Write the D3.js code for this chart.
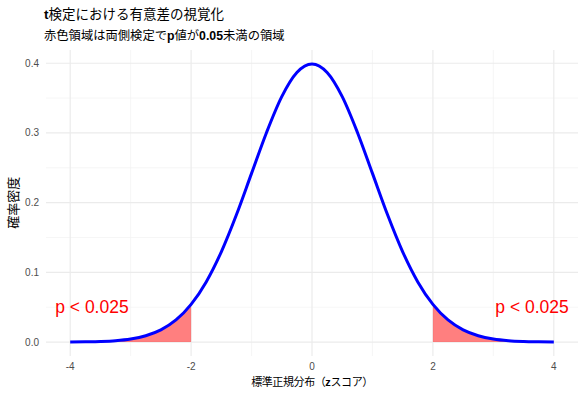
<!DOCTYPE html>
<html>
<head>
<meta charset="utf-8">
<script src="https://cdn.jsdelivr.net/npm/d3@7"></script>
<style>
  body { margin: 0; background: #fff; }
  text { font-family: "Noto Sans CJK JP", "Liberation Sans", sans-serif; }
  .tick-label { font-family: "Liberation Sans", Arial, sans-serif; font-size: 10px; fill: #4d4d4d; }
  .latin { font-family: "Liberation Sans", Arial, sans-serif; font-weight: bold; }
</style>
</head>
<body>
<div class="chart"></div>
<script>
const svgWidth = 586;
const svgHeight = 396;

// density curve, values
const zValues = [-4, -3.75, -3.5, -3.25, -3, -2.75, -2.5, -2.25, -2, -1.75, -1.5, -1.25, -1, -0.75, -0.5, -0.25,
  0, 0.25, 0.5, 0.75, 1, 1.25, 1.5, 1.75, 2, 2.25, 2.5, 2.75, 3, 3.25, 3.5, 3.75, 4];
const densityValues = [0.0001, 0.0004, 0.0009, 0.0020, 0.0044, 0.0091, 0.0175, 0.0317, 0.0540, 0.0863, 0.1295, 0.1826,
  0.2420, 0.3011, 0.3521, 0.3867, 0.3989, 0.3867, 0.3521, 0.3011, 0.2420, 0.1826, 0.1295, 0.0863,
  0.0540, 0.0317, 0.0175, 0.0091, 0.0044, 0.0020, 0.0009, 0.0004, 0.0001];

const xTicks = [-4, -2, 0, 2, 4];
const xMinor = [-3, -1, 1, 3];
const yTicks = [0, 0.1, 0.2, 0.3, 0.4];
const yMinor = [0.05, 0.15, 0.25, 0.35];

const critical = 2;
const annotations = [
  { x: -3.64, y: 0.05, label: 'p < 0.025' },
  { x: 3.64, y: 0.05, label: 'p < 0.025' }
];

const margin = { top: 50, right: 8, bottom: 40, left: 46 };
const width = svgWidth - margin.left - margin.right;
const height = svgHeight - margin.top - margin.bottom;

const data = zValues.map((z, i) => ({ z: z, d: densityValues[i] }));

const svg = d3.select('.chart')
  .append('svg')
  .attr('width', svgWidth)
  .attr('height', svgHeight);

const chartGroup = svg.append('g')
  .attr('transform', `translate(${margin.left}, ${margin.top})`);

const xScale = d3.scaleLinear().domain([-4.4, 4.4]).range([0, width]);
const yScale = d3.scaleLinear().domain([-0.02, 0.419]).range([height, 0]);

// grid
chartGroup.selectAll('.minor-x').data(xMinor).enter().append('line')
  .attr('x1', d => xScale(d)).attr('x2', d => xScale(d))
  .attr('y1', 0).attr('y2', height)
  .attr('stroke', '#f2f2f2').attr('stroke-width', 0.7);
chartGroup.selectAll('.minor-y').data(yMinor).enter().append('line')
  .attr('y1', d => yScale(d)).attr('y2', d => yScale(d))
  .attr('x1', 0).attr('x2', width)
  .attr('stroke', '#f2f2f2').attr('stroke-width', 0.7);
chartGroup.selectAll('.major-x').data(xTicks).enter().append('line')
  .attr('x1', d => xScale(d)).attr('x2', d => xScale(d))
  .attr('y1', 0).attr('y2', height)
  .attr('stroke', '#ebebeb').attr('stroke-width', 1.2);
chartGroup.selectAll('.major-y').data(yTicks).enter().append('line')
  .attr('y1', d => yScale(d)).attr('y2', d => yScale(d))
  .attr('x1', 0).attr('x2', width)
  .attr('stroke', '#ebebeb').attr('stroke-width', 1.2);

// tick labels
chartGroup.selectAll('.xlab').data(xTicks).enter().append('text')
  .attr('class', 'tick-label')
  .attr('x', d => xScale(d))
  .attr('y', height + 14)
  .attr('text-anchor', 'middle')
  .text(d => String(d));
chartGroup.selectAll('.ylab').data(yTicks).enter().append('text')
  .attr('class', 'tick-label')
  .attr('x', -7)
  .attr('y', d => yScale(d) + 3.5)
  .attr('text-anchor', 'end')
  .text(d => d3.format('.1f')(d));

// shaded tails
const area = d3.area()
  .x(d => xScale(d.z))
  .y0(yScale(0))
  .y1(d => yScale(d.d))
  .curve(d3.curveMonotoneX);
chartGroup.append('path')
  .datum(data.filter(d => d.z <= -critical))
  .attr('d', area)
  .attr('fill', 'red').attr('fill-opacity', 0.5);
chartGroup.append('path')
  .datum(data.filter(d => d.z >= critical))
  .attr('d', area)
  .attr('fill', 'red').attr('fill-opacity', 0.5);

// curve
const line = d3.line()
  .x(d => xScale(d.z))
  .y(d => yScale(d.d))
  .curve(d3.curveMonotoneX);
chartGroup.append('path')
  .datum(data)
  .attr('d', line)
  .attr('fill', 'none')
  .attr('stroke', 'blue')
  .attr('stroke-width', 3);

// annotations
chartGroup.selectAll('.note').data(annotations).enter().append('text')
  .attr('x', d => xScale(d.x))
  .attr('y', d => yScale(d.y))
  .attr('dy', '0.35em')
  .attr('text-anchor', 'middle')
  .attr('fill', 'red')
  .style('font-family', '"Liberation Sans", Arial, sans-serif')
  .style('font-size', '17.5px')
  .text(d => d.label);

// titles
const title = svg.append('text')
  .attr('x', 44).attr('y', 19)
  .style('font-size', '13.5px')
  .attr('fill', '#000');
title.append('tspan').attr('class', 'latin').text('t');
title.append('tspan').text('検定における有意差の視覚化');

const subtitle = svg.append('text')
  .attr('x', 44).attr('y', 40)
  .style('font-size', '12.3px')
  .attr('fill', '#000');
subtitle.append('tspan').text('赤色領域は両側検定で');
subtitle.append('tspan').attr('class', 'latin').text('p');
subtitle.append('tspan').text('値が');
subtitle.append('tspan').attr('class', 'latin').text('0.05');
subtitle.append('tspan').text('未満の領域');

const xTitle = svg.append('text')
  .attr('x', margin.left + xScale(0))
  .attr('y', 386)
  .attr('text-anchor', 'middle')
  .style('font-size', '11px')
  .style('letter-spacing', '-0.4px');
xTitle.append('tspan').text('標準正規分布（');
xTitle.append('tspan').attr('class', 'latin').text('z');
xTitle.append('tspan').text('スコア）');

svg.append('text')
  .attr('transform', `translate(18, ${margin.top + yScale(0.2)}) rotate(-90)`)
  .attr('text-anchor', 'middle')
  .style('font-size', '13px')
  .text('確率密度');
</script>
</body>
</html>
